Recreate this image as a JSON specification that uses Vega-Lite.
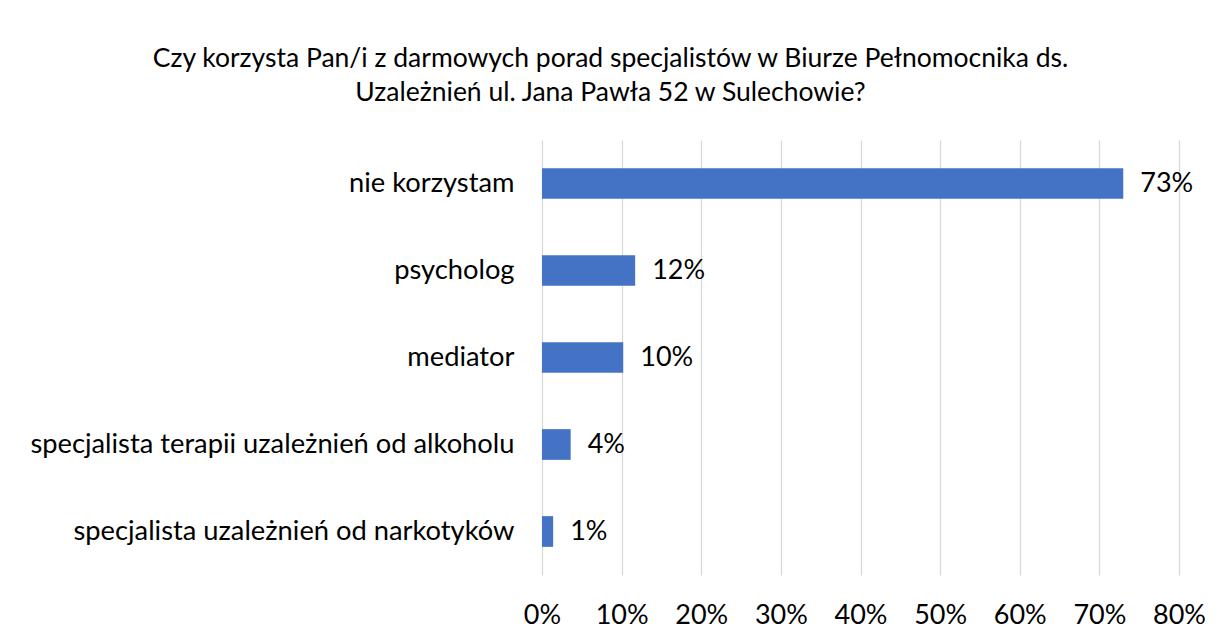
{
  "$schema": "https://vega.github.io/schema/vega-lite/v6.json",
  "autosize": "none",
  "width": 637,
  "height": 435,
  "padding": {"left": 542, "top": 140, "right": 42, "bottom": 63},
  "background": "white",
  "config": {
    "font": "Lato",
    "view": {"stroke": null}
  },
  "title": {
    "text": ["Czy korzysta Pan/i z darmowych porad specjalistów w Biurze Pełnomocnika ds.", "Uzależnień ul. Jana Pawła 52 w Sulechowie?"],
    "anchor": "middle",
    "frame": "group",
    "dx": -250,
    "offset": 34,
    "fontSize": 26.5,
    "fontWeight": "normal",
    "lineHeight": 34,
    "color": "#000000",
    "font": "Lato"
  },
  "data": {
    "values": [
      {"kategoria": "nie korzystam", "wartosc": 0.73},
      {"kategoria": "psycholog", "wartosc": 0.117},
      {"kategoria": "mediator", "wartosc": 0.102},
      {"kategoria": "specjalista terapii uzależnień od alkoholu", "wartosc": 0.036},
      {"kategoria": "specjalista uzależnień od narkotyków", "wartosc": 0.014}
    ]
  },
  "encoding": {
    "y": {
      "field": "kategoria",
      "type": "nominal",
      "sort": null,
      "title": null,
      "scale": {"paddingInner": 0.647, "paddingOuter": 0.3235},
      "axis": {
        "domain": false,
        "ticks": false,
        "labelPadding": 28,
        "labelFontSize": 27.3,
        "labelColor": "#000000",
        "labelLimit": 600,
        "grid": false
      }
    },
    "x": {
      "field": "wartosc",
      "type": "quantitative",
      "title": null,
      "scale": {"domain": [0, 0.8]},
      "axis": {
        "format": ".0%",
        "values": [0, 0.1, 0.2, 0.3, 0.4, 0.5, 0.6, 0.7, 0.8],
        "domain": false,
        "ticks": false,
        "grid": true,
        "gridColor": "#d9d9d9",
        "gridWidth": 1.3,
        "labelPadding": 27,
        "labelFontSize": 27,
        "labelColor": "#000000",
        "labelFlush": false
      }
    }
  },
  "layer": [
    {
      "mark": {"type": "bar", "color": "#4472C4"}
    },
    {
      "mark": {"type": "text", "align": "left", "baseline": "middle", "dx": 17, "fontSize": 27, "color": "#000000"},
      "encoding": {
        "text": {"field": "wartosc", "type": "quantitative", "format": ".0%"}
      }
    }
  ]
}
